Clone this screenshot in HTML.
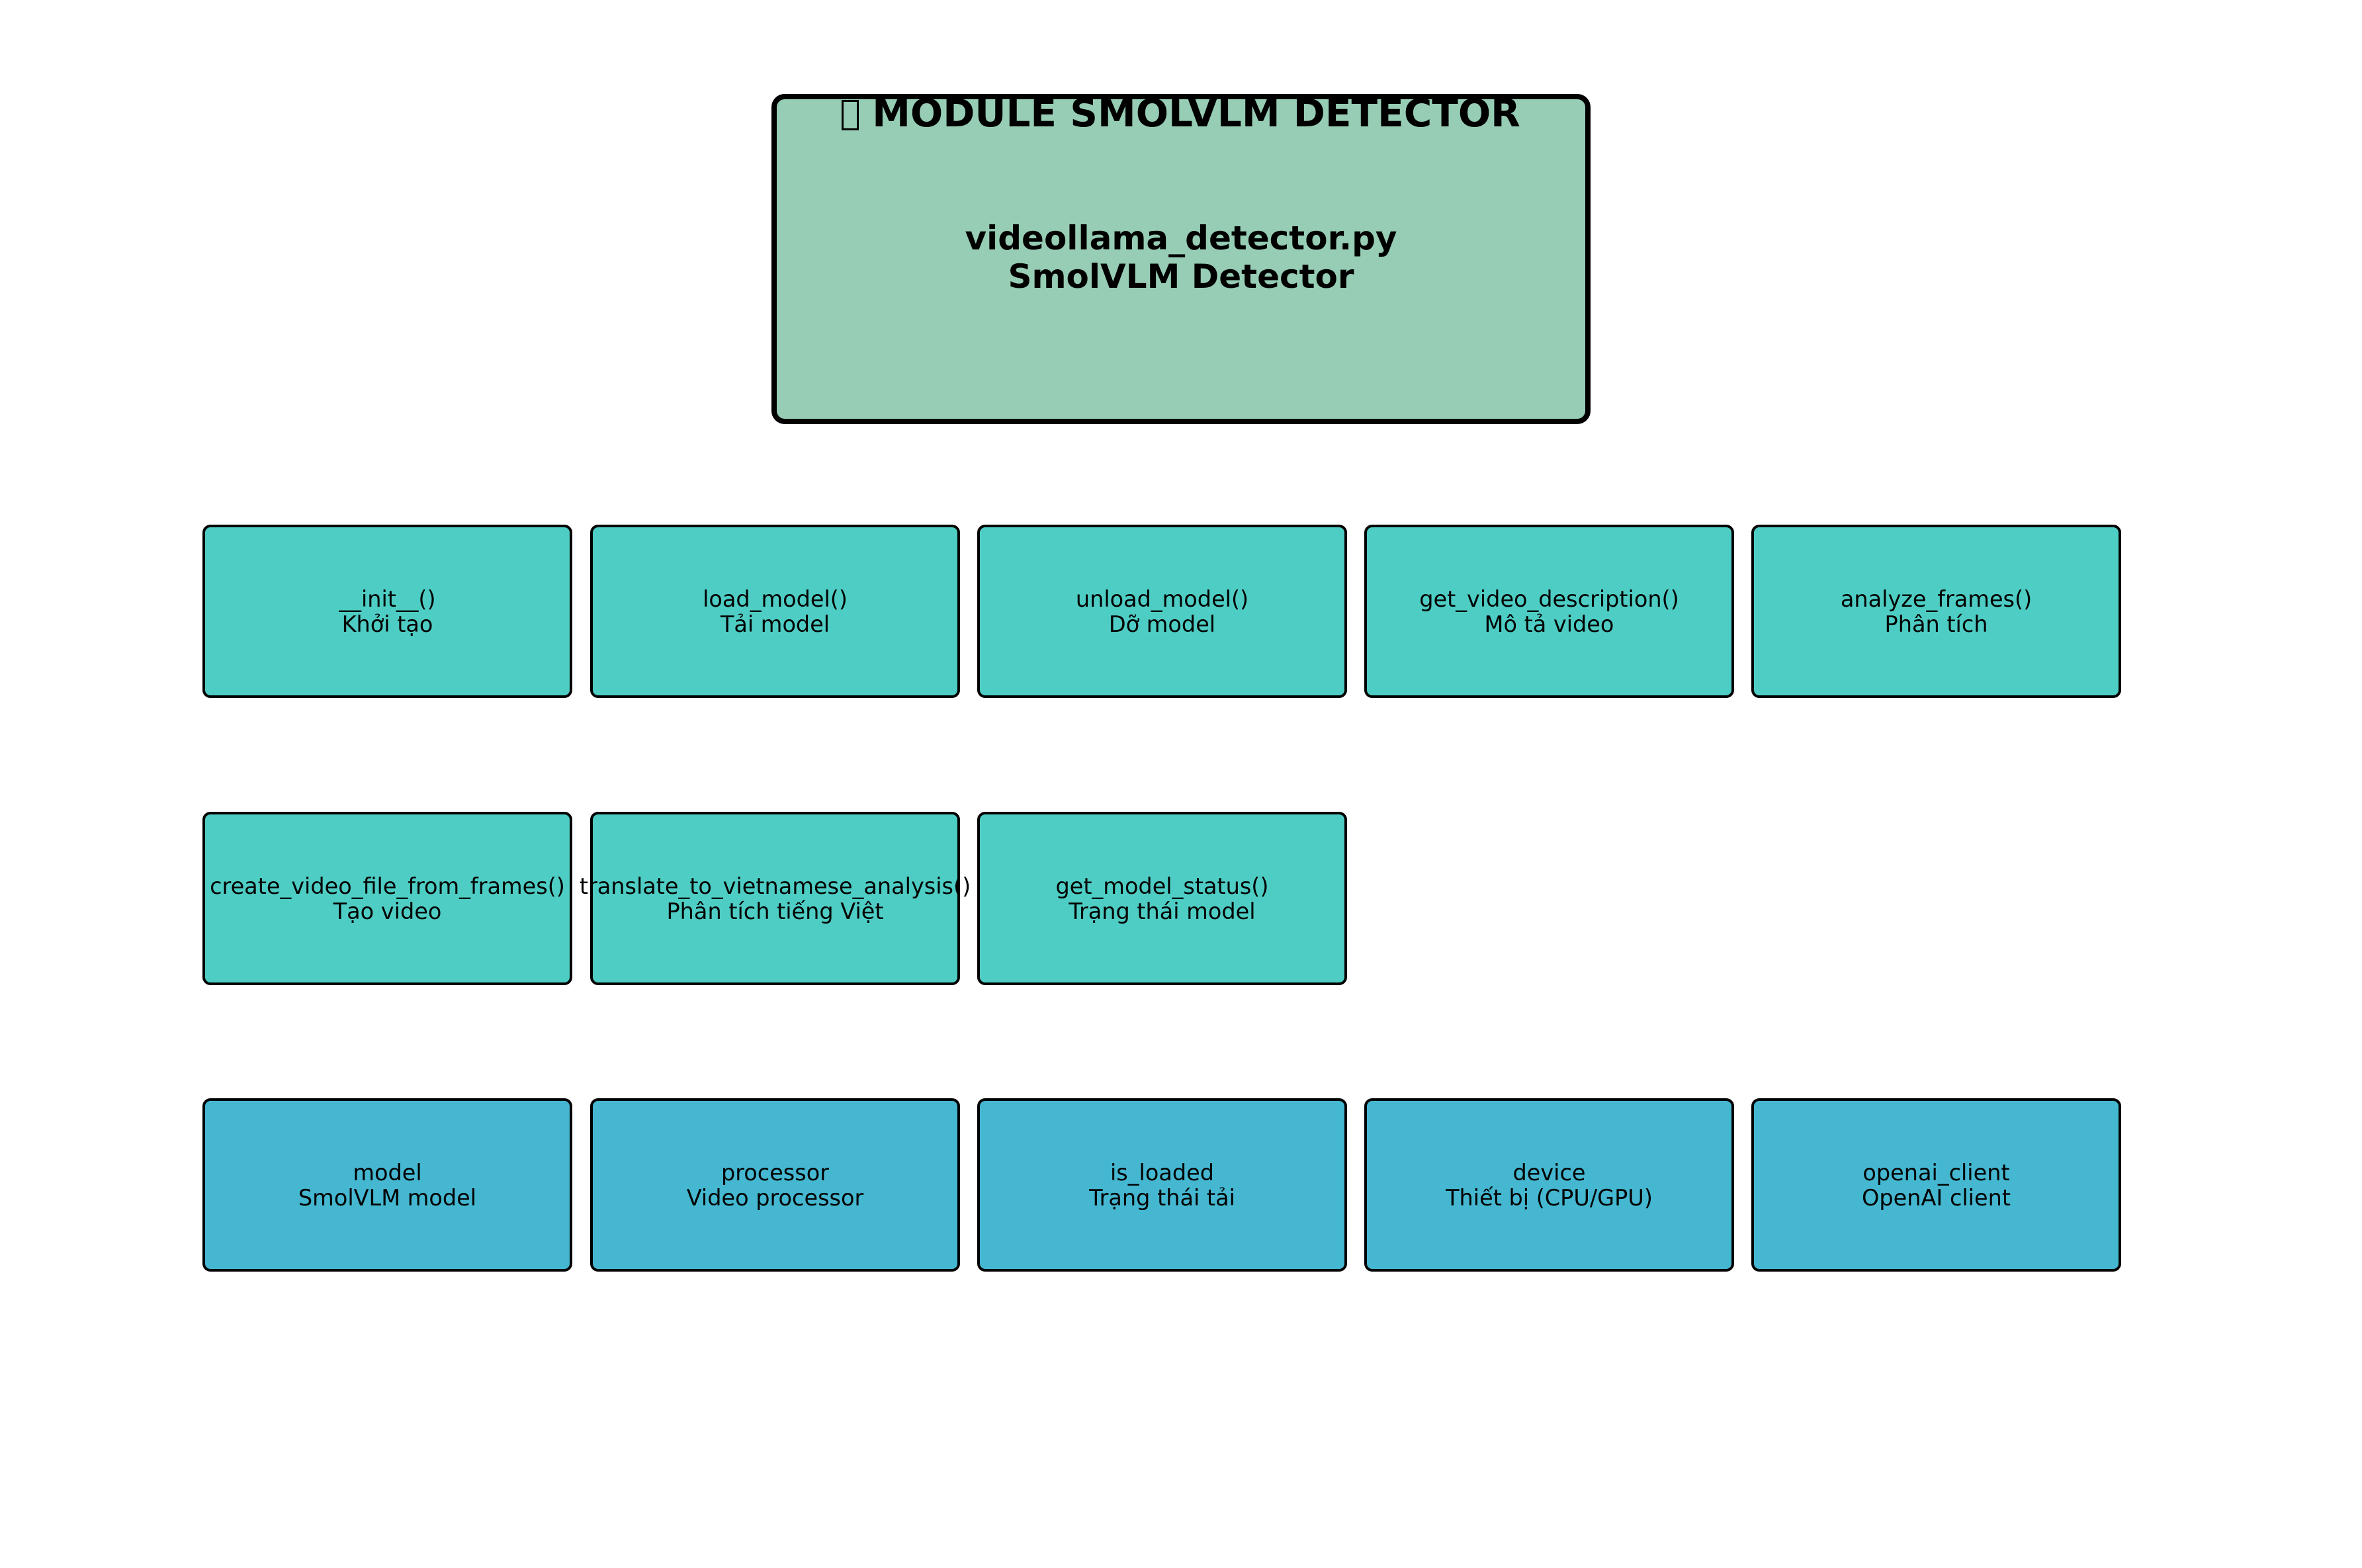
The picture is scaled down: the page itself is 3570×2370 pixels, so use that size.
<!DOCTYPE html>
<html><head><meta charset="utf-8">
<style>
html,body{margin:0;padding:0;background:#fff;}
body{width:3570px;height:2370px;position:relative;overflow:hidden;font-family:"DejaVu Sans","Liberation Sans",sans-serif;color:#000;}
.b{position:absolute;box-sizing:border-box;border:4px solid #000;border-radius:12px;width:559px;height:262px;display:flex;align-items:center;justify-content:center;text-align:center;font-size:33.5px;line-height:38px;white-space:nowrap;padding-top:2px;}
.t{background:#4ECDC4;}
.u{background:#45B7D1;}
.main{position:absolute;left:1166px;top:142px;width:1238px;height:499px;box-sizing:border-box;border:8px solid #000;border-radius:20px;background:#96CDB4;}
.title{position:absolute;left:1166px;width:1238px;top:138px;text-align:center;font-weight:bold;font-size:58px;line-height:66px;white-space:nowrap;}
.tofu{display:inline-block;width:26px;height:46px;border:3px solid #000;box-sizing:border-box;vertical-align:-6px;margin-right:20px;}
.sub{position:absolute;left:1166px;width:1238px;top:331px;text-align:center;font-weight:bold;font-size:50px;line-height:58px;white-space:nowrap;}
</style></head><body>
<div class="main"></div>
<div class="title"><span class="tofu"></span>MODULE SMOLVLM DETECTOR</div>
<div class="sub">videollama_detector.py<br>SmolVLM Detector</div>

<div class="b t" style="left:306px;top:793px">__init__()<br>Khởi tạo</div>
<div class="b t" style="left:892px;top:793px">load_model()<br>Tải model</div>
<div class="b t" style="left:1477px;top:793px">unload_model()<br>Dỡ model</div>
<div class="b t" style="left:2062px;top:793px">get_video_description()<br>Mô tả video</div>
<div class="b t" style="left:2647px;top:793px">analyze_frames()<br>Phân tích</div>

<div class="b t" style="left:306px;top:1227px">create_video_file_from_frames()<br>Tạo video</div>
<div class="b t" style="left:892px;top:1227px">translate_to_vietnamese_analysis()<br>Phân tích tiếng Việt</div>
<div class="b t" style="left:1477px;top:1227px">get_model_status()<br>Trạng thái model</div>

<div class="b u" style="left:306px;top:1660px">model<br>SmolVLM model</div>
<div class="b u" style="left:892px;top:1660px">processor<br>Video processor</div>
<div class="b u" style="left:1477px;top:1660px">is_loaded<br>Trạng thái tải</div>
<div class="b u" style="left:2062px;top:1660px">device<br>Thiết bị (CPU/GPU)</div>
<div class="b u" style="left:2647px;top:1660px">openai_client<br>OpenAI client</div>
</body></html>
